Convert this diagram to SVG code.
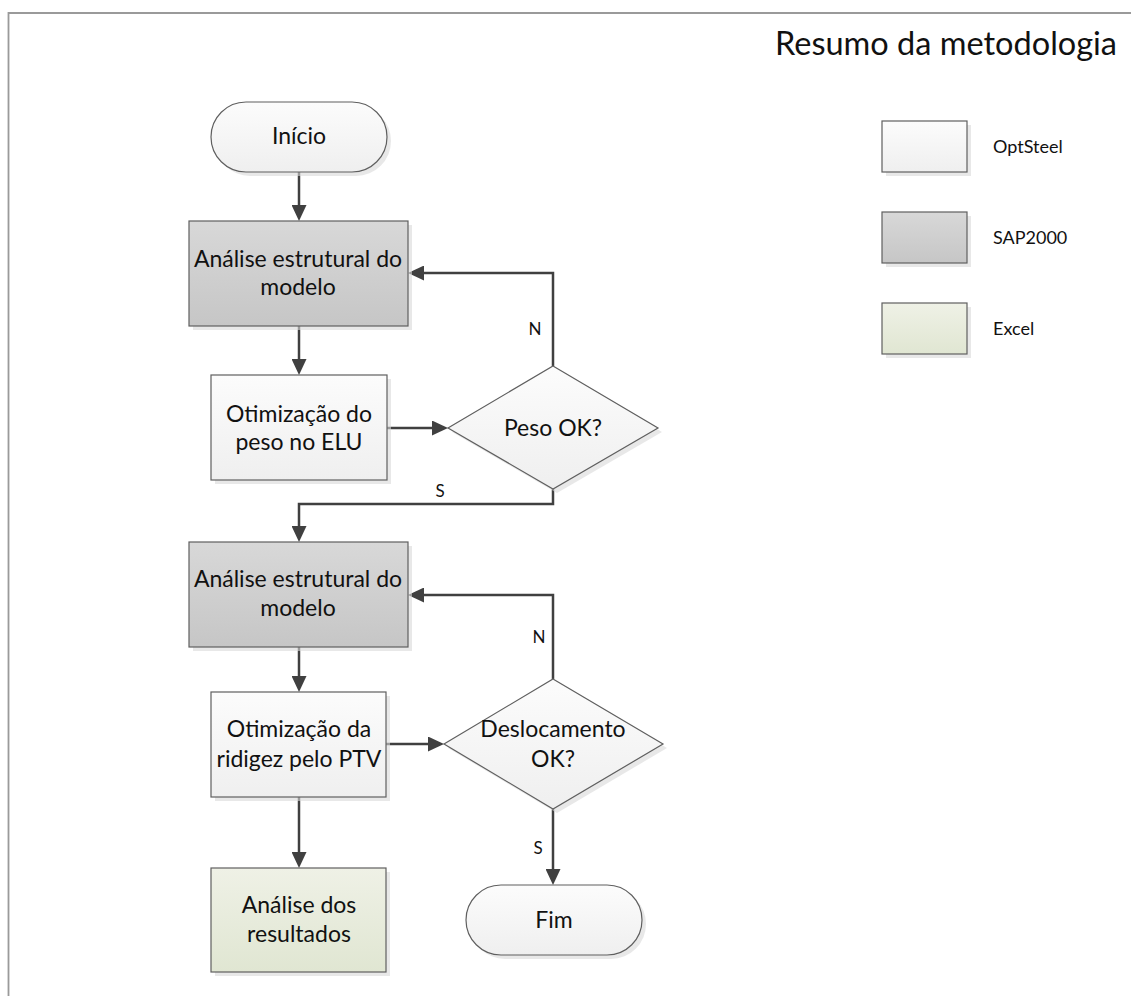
<svg xmlns="http://www.w3.org/2000/svg" width="1131" height="996" viewBox="0 0 1131 996">
  <defs>
    <linearGradient id="gOpt" x1="0" y1="0" x2="0" y2="1">
      <stop offset="0" stop-color="#fcfcfc"/>
      <stop offset="1" stop-color="#efefef"/>
    </linearGradient>
    <linearGradient id="gSap" x1="0" y1="0" x2="0" y2="1">
      <stop offset="0" stop-color="#d8d8d8"/>
      <stop offset="1" stop-color="#c6c6c6"/>
    </linearGradient>
    <linearGradient id="gXls" x1="0" y1="0" x2="0" y2="1">
      <stop offset="0" stop-color="#eff1e6"/>
      <stop offset="1" stop-color="#e0e6d2"/>
    </linearGradient>
    <marker id="arrow" markerUnits="userSpaceOnUse" markerWidth="16" markerHeight="15" refX="8" refY="7.5" orient="auto">
      <path d="M0,0 L16,7.5 L0,15 z" fill="#404040"/>
    </marker>
    <style>
      .shape { stroke: #5f5f5f; stroke-width: 1.2; }
      .shadow { fill: #d8d8d8; opacity: 0.6; }
      .opt { fill: url(#gOpt); }
      .sap { fill: url(#gSap); }
      .xls { fill: url(#gXls); }
      .lbl { font-family: "Lato", "Open Sans", sans-serif; font-size: 23px; fill: #111; text-anchor: middle; }
      .small { font-family: "Lato", "Open Sans", sans-serif; font-size: 18px; fill: #111; }
      .yn { font-family: "Lato", "Open Sans", sans-serif; font-size: 17px; fill: #111; text-anchor: middle; }
      .conn { fill: none; stroke: #404040; stroke-width: 2.5; marker-end: url(#arrow); }
    </style>
  </defs>

  <rect width="1131" height="996" fill="#ffffff"/>

  <!-- page frame -->
  <path d="M8.5,996 V13 H1131" fill="none" stroke="#9a9a9a" stroke-width="1.8"/>

  <text x="1117" y="55" font-family="Lato, 'Open Sans', sans-serif" font-size="32.5" fill="#111" text-anchor="end">Resumo da metodologia</text>

  <!-- connectors -->
  <g id="connectors">
    <path class="conn" d="M299,172 V213"/>
    <path class="conn" d="M299,326 V367"/>
    <path class="conn" d="M387,428 H440"/>
    <path class="conn" d="M553,366 V273 H416"/>
    <path class="conn" d="M553,489 V504 H299 V534"/>
    <path class="conn" d="M299,647 V684"/>
    <path class="conn" d="M386,744 H436"/>
    <path class="conn" d="M553,679 V595 H416"/>
    <path class="conn" d="M299,797 V860"/>
    <path class="conn" d="M553,809 V877"/>
    <text class="yn" x="535" y="335">N</text>
    <text class="yn" x="440" y="497">S</text>
    <text class="yn" x="539" y="643">N</text>
    <text class="yn" x="538" y="854">S</text>
  </g>

  <g id="inicio">
    <rect class="shadow" x="215" y="106" width="176" height="70" rx="35"/>
    <rect class="shape opt" x="211" y="102" width="176" height="70" rx="35"/>
    <text class="lbl" x="299" y="144">Início</text>
  </g>

  <g id="analise1">
    <rect class="shadow" x="193" y="225" width="219" height="105"/>
    <rect class="shape sap" x="189" y="221" width="219" height="105"/>
    <text class="lbl" x="298" y="267">Análise estrutural do</text>
    <text class="lbl" x="298" y="295">modelo</text>
  </g>

  <g id="otim-peso">
    <rect class="shadow" x="215" y="379" width="176" height="105"/>
    <rect class="shape opt" x="211" y="375" width="176" height="105"/>
    <text class="lbl" x="299" y="422">Otimização do</text>
    <text class="lbl" x="299" y="450">peso no ELU</text>
  </g>

  <g id="peso-ok">
    <path class="shadow" d="M557,370 L662,432 L557,493 L452,432 z"/>
    <path class="shape opt" d="M553,366 L658,428 L553,489 L448,428 z"/>
    <text class="lbl" x="553" y="436">Peso OK?</text>
  </g>

  <g id="analise2">
    <rect class="shadow" x="193" y="546" width="219" height="105"/>
    <rect class="shape sap" x="189" y="542" width="219" height="105"/>
    <text class="lbl" x="298" y="587">Análise estrutural do</text>
    <text class="lbl" x="298" y="616">modelo</text>
  </g>

  <g id="otim-ridigez">
    <rect class="shadow" x="215" y="696" width="175" height="105"/>
    <rect class="shape opt" x="211" y="692" width="175" height="105"/>
    <text class="lbl" x="299" y="737">Otimização da</text>
    <text class="lbl" x="299" y="767">ridigez pelo PTV</text>
  </g>

  <g id="desloc-ok">
    <path class="shadow" d="M557,683 L667,748 L557,813 L448,748 z"/>
    <path class="shape opt" d="M553,679 L663,744 L553,809 L444,744 z"/>
    <text class="lbl" x="553" y="737">Deslocamento</text>
    <text class="lbl" x="553" y="767">OK?</text>
  </g>

  <g id="analise-resultados">
    <rect class="shadow" x="215" y="872" width="175" height="104"/>
    <rect class="shape xls" x="211" y="868" width="175" height="104"/>
    <text class="lbl" x="299" y="913">Análise dos</text>
    <text class="lbl" x="299" y="942">resultados</text>
  </g>

  <g id="fim">
    <rect class="shadow" x="470" y="889" width="176" height="70" rx="35"/>
    <rect class="shape opt" x="466" y="885" width="176" height="70" rx="35"/>
    <text class="lbl" x="554" y="928">Fim</text>
  </g>

  <!-- legend -->
  <g id="legend-optsteel">
    <rect class="shadow" x="886" y="125" width="85" height="51"/>
    <rect class="shape opt" x="882" y="121" width="85" height="51"/>
    <text class="small" x="993" y="153">OptSteel</text>
  </g>
  <g id="legend-sap2000">
    <rect class="shadow" x="886" y="216" width="85" height="51"/>
    <rect class="shape sap" x="882" y="212" width="85" height="51"/>
    <text class="small" x="993" y="244">SAP2000</text>
  </g>
  <g id="legend-excel">
    <rect class="shadow" x="886" y="307" width="85" height="51"/>
    <rect class="shape xls" x="882" y="303" width="85" height="51"/>
    <text class="small" x="993" y="335">Excel</text>
  </g>
</svg>
